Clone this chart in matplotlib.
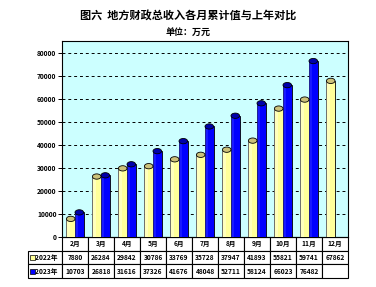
import matplotlib
matplotlib.use("Agg")
import matplotlib.pyplot as plt
from matplotlib.patches import Ellipse, Rectangle
import numpy as np

plt.rcParams['font.family'] = ['Noto Sans CJK SC', 'DejaVu Sans']

months = ["2月", "3月", "4月", "5月", "6月", "7月", "8月", "9月", "10月", "11月", "12月"]
series_names = ["2022年", "2023年"]
v2022 = [7880, 26284, 29842, 30786, 33769, 35728, 37947, 41893, 55821, 59741, 67862]
v2023 = [10703, 26818, 31616, 37326, 41676, 48048, 52711, 58124, 66023, 76482, None]
yticks = [0, 10000, 20000, 30000, 40000, 50000, 60000, 70000, 80000]

body_colors = ["#FFFF99", "#0000FF"]
top_colors = ["#CCC27A", "#0000AA"]

fig = plt.figure(figsize=(3.76, 2.87), dpi=100)
fig.patch.set_facecolor("white")
W, H = 376, 287
L, R, T, B = 62, 348, 41, 237
ax = fig.add_axes([L / W, 1 - B / H, (R - L) / W, (B - T) / H])
ax.set_facecolor("#CCFFFF")

n = len(months)
x = np.arange(n)
bw = 0.33
ax.set_xlim(-0.5, n - 0.5)
ax.set_ylim(0, 85200)

for si, vals in enumerate([v2022, v2023]):
    off = (si - 0.5) * bw
    for i, v in enumerate(vals):
        if v is None:
            continue
        ax.bar(x[i] + off, v, width=bw, color=body_colors[si], edgecolor="black",
               linewidth=0.6, zorder=3)
        # slight shading on left of cylinder
        ax.bar(x[i] + off - bw * 0.3, v, width=bw * 0.4,
               color="white" if si == 0 else "#3333FF", alpha=0.35 if si == 0 else 0.5,
               linewidth=0, zorder=3.5)
        ax.add_patch(Ellipse((x[i] + off, v), bw, 2300, facecolor=top_colors[si],
                             edgecolor="black", linewidth=0.6, zorder=4))

ax.set_yticks(yticks)
ax.set_yticklabels([str(t) for t in yticks], fontsize=4.8, fontweight="bold")
ax.yaxis.grid(True, linestyle=(0, (3, 3)), color="black", linewidth=0.7, zorder=1)
ax.set_axisbelow(True)
ax.tick_params(axis="y", length=3, width=0.7, pad=1)
ax.set_xticks([])
for s in ax.spines.values():
    s.set_linewidth(0.8)

# title
fig.text(0.5, 1 - 16 / H, "图六  地方财政总收入各月累计值与上年对比", ha="center", va="center",
         fontsize=8, fontweight="bold")
fig.text(0.5, 1 - 32 / H, "单位：万元", ha="center", va="center",
         fontsize=6.5, fontweight="bold")

# data table
fmt = lambda v: "" if v is None else str(v)
cell_text = [[""] + months,
             ["    " + series_names[0]] + [fmt(v) for v in v2022],
             ["    " + series_names[1]] + [fmt(v) for v in v2023]]
TL = 28
tb_bottom = 278
axw, axh = R - L, B - T
tab = ax.table(cellText=cell_text,
               colWidths=[34] + [26] * n,
               bbox=[(TL - L) / axw, -(tb_bottom - B) / axh, (R - TL) / axw, (tb_bottom - B) / axh],
               cellLoc="center")
tab.auto_set_font_size(False)
for (r, c), cell in tab.get_celld().items():
    cell.set_linewidth(0.8)
    cell.set_facecolor("white")
    cell.get_text().set_fontsize(4.8)
    cell.get_text().set_fontweight("bold")
    if c == 0:
        cell.get_text().set_ha("left")
        cell._loc = "left"
        cell.PAD = 0.02
    if r == 0 and c == 0:
        cell.visible_edges = ""
        cell.set_facecolor("none")

# legend keys in table
for si in range(2):
    yc = 1 - (250 + 14 * si + 7) / H
    fig.add_artist(Rectangle((30 / W, yc - 2.5 / H), 5 / W, 5 / H, transform=fig.transFigure,
                             facecolor=body_colors[si], edgecolor="black", linewidth=0.5))

fig.savefig("out.png", dpi=100)
